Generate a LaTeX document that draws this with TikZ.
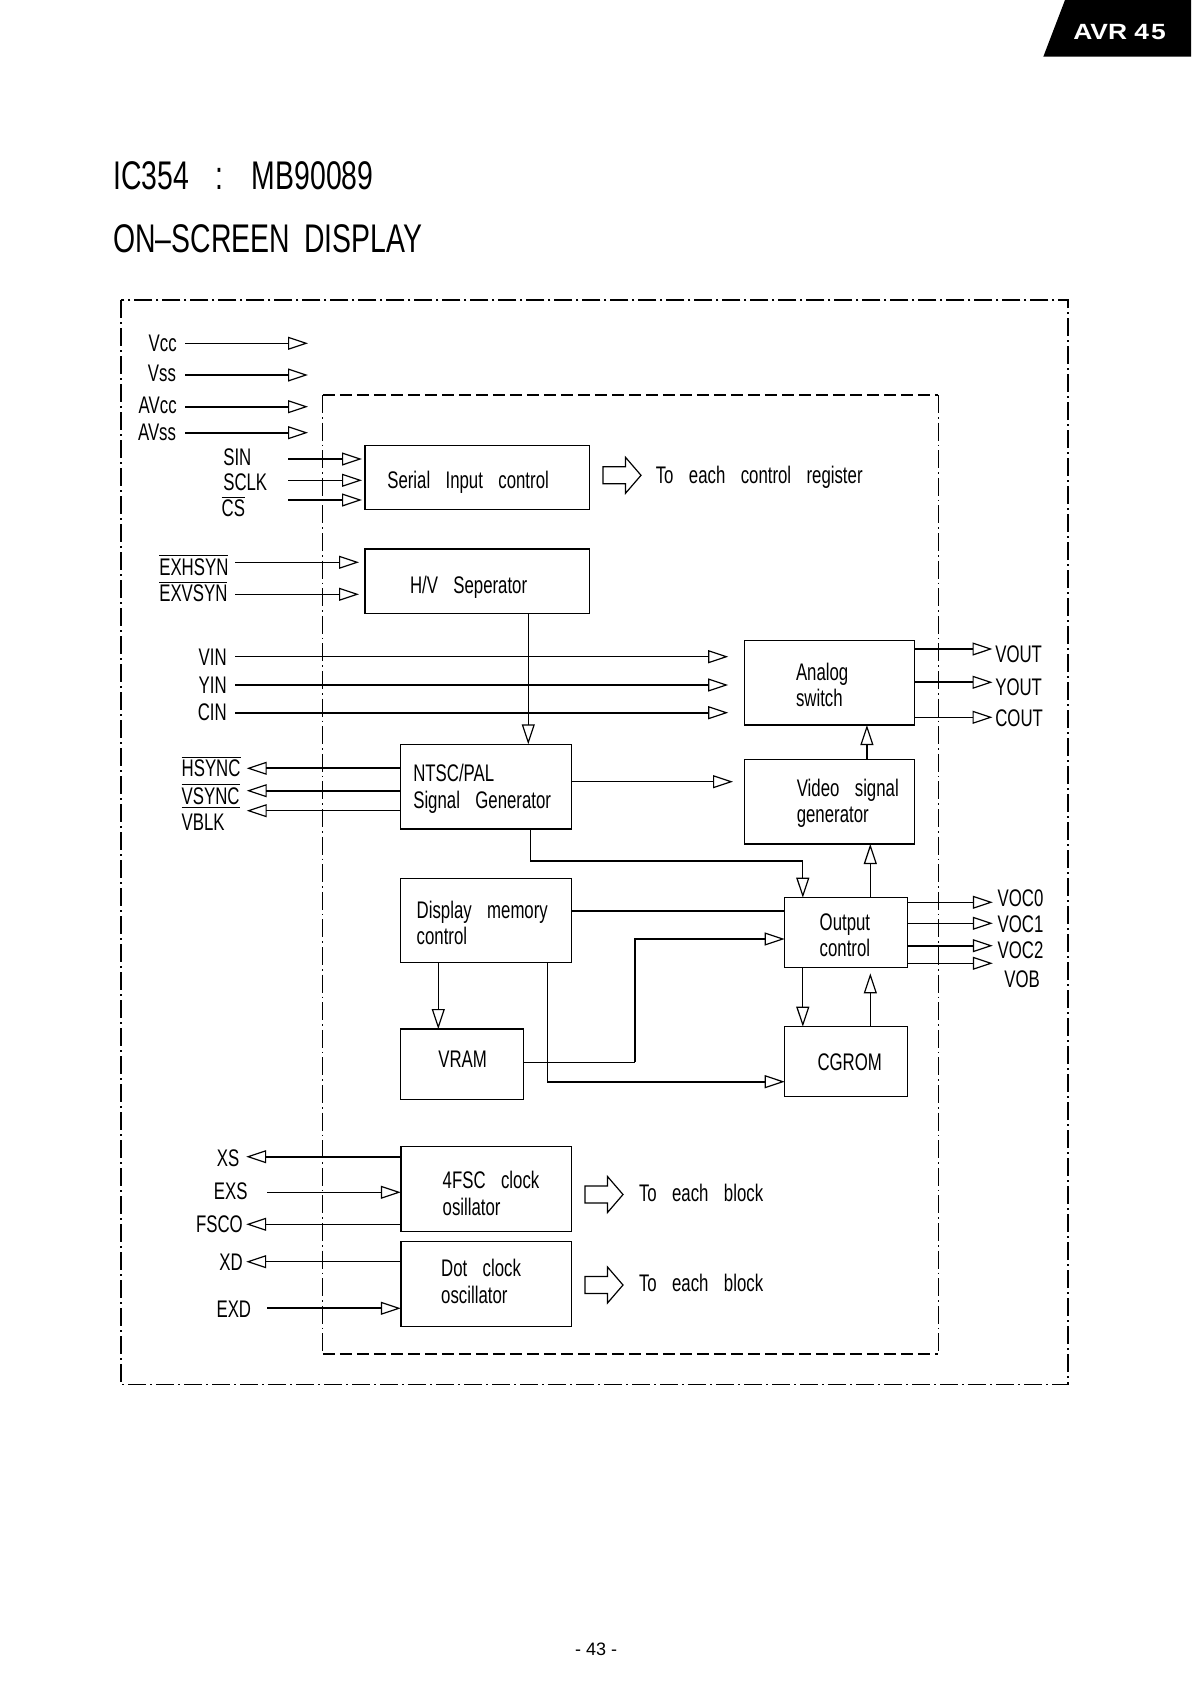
\documentclass[tikz,border=0pt]{standalone}
\usepackage{fontspec}
\setmainfont{Liberation Sans}[FakeStretch=0.7, WordSpace=3.3]
\newfontfamily\titlefont{Liberation Sans}[FakeStretch=0.71, WordSpace=1.8]
\newfontfamily\badgefont{Liberation Sans}[FakeStretch=1.2]
\newfontfamily\pagefont{Liberation Sans}
\usetikzlibrary{arrows.meta,fit}
\tikzset{
  every node/.style={inner sep=0pt, outer sep=0pt, font=\fontsize{12pt}{14pt}\selectfont},
  blk/.style={draw, line width=0.7pt, inner sep=0pt},
  wire/.style={line width=0.55pt},
  thk/.style={line width=1pt},
  sig/.style={-{Triangle[open, length=10pt, width=6.5pt, line width=0.6pt]}},
  lw/.style={anchor=base west},
  le/.style={anchor=base east},
  outerbox/.style={line width=0.8pt, dash pattern=on 9pt off 2pt on 1pt off 2pt},
  innerside/.style={line width=0.5pt, dash pattern=on 9pt off 2pt on 0.8pt off 2pt},
  innertop/.style={line width=0.9pt, dash pattern=on 6pt off 2.5pt},
  pics/fatarrow/.style={code={
    \draw[line width=0.6pt] (0,-8.5) -- (22.5,-8.5) -- (22.5,-18) -- (38,0)
      -- (22.5,18) -- (22.5,8.5) -- (0,8.5) -- cycle;}}
}
\begin{document}
\begin{tikzpicture}[x=0.5pt,y=-0.5pt]
\fill[white] (0,0) rectangle (1191,1685);
\useasboundingbox (0,0) rectangle (1191,1685);

% badge
\fill[black] (1065,0) -- (1191,0) -- (1191,56.7) -- (1043.3,56.7) -- cycle;
\node[lw, text=white, font=\badgefont\bfseries\fontsize{11pt}{13pt}\selectfont] (badge) at (1073.3,40) {AVR 4\kern1pt5};

% titles
\node[lw, font=\titlefont\fontsize{20pt}{24pt}\selectfont] (title1) at (113.3,190) {IC354\hspace{6pt} :\hspace{6pt} MB90089};
\node[lw, font=\titlefont\fontsize{20pt}{24pt}\selectfont] (title2) at (113.3,252.7) {ON–SCREEN DISPLAY};

% frames
\draw[outerbox] (120.7,300) rectangle (1068.2,1384.3);
\draw[innerside] (322.8,395) -- (322.8,1354);
\draw[innerside] (938.1,395) -- (938.1,1354);
\draw[innertop] (322.8,395) -- (938.1,395);
\draw[innertop] (322.8,1354) -- (938.1,1354);

% blocks
\node[blk, fit={(365,445.7) (589.3,509.3)}] (sic) {};
\node[blk, fit={(365,549) (589.3,613.3)}] (hv) {};
\node[blk, fit={(400.7,744.3) (571.7,829)}] (ntsc) {};
\node[blk, fit={(400.7,878.3) (571.7,962.3)}] (dmc) {};
\node[blk, fit={(400.7,1029) (523.3,1099.3)}] (vram) {};
\node[blk, fit={(744.7,640.7) (914.7,725)}] (asw) {};
\node[blk, fit={(744.7,759.3) (914.7,844)}] (vsg) {};
\node[blk, fit={(784.7,897.7) (907.2,967.7)}] (oc) {};
\node[blk, fit={(784.7,1026.7) (907.2,1096.7)}] (cg) {};
\node[blk, fit={(400.8,1146.7) (571.4,1231.5)}] (fsc) {};
\node[blk, fit={(400.8,1241.7) (571.4,1326.7)}] (dot) {};

% block texts
\node[lw] (sicT) at (387.3,488.3) {Serial Input control};
\node[lw] (hvT) at (410,593.3) {H/V Seperator};
\node[lw] (ntscA) at (413.3,781.7) {NTSC/PAL};
\node[lw] (ntscB) at (413.3,808.3) {Signal Generator};
\node[lw] (dmcA) at (416.7,918.3) {Display memory};
\node[lw] (dmcB) at (416.7,944) {control};
\node[lw] (vramT) at (438.3,1067.3) {VRAM};
\node[lw] (aswA) at (796,680) {Analog};
\node[lw] (aswB) at (796,706.7) {switch};
\node[lw] (vsgA) at (796.8,796.7) {Video signal};
\node[lw] (vsgB) at (796.8,822) {generator};
\node[lw] (ocA) at (819.7,930) {Output};
\node[lw] (ocB) at (819.7,956) {control};
\node[lw] (cgT) at (817.5,1070.7) {CGROM};
\node[lw] (fscA) at (442.7,1188) {4FSC clock};
\node[lw] (fscB) at (442.7,1215) {osillator};
\node[lw] (dotA) at (441.2,1276) {Dot clock};
\node[lw] (dotB) at (441.2,1303) {oscillator};

% "to each" arrows and texts
\pic (fa1) at (603,475.3) {fatarrow};
\node[lw] (regT) at (655.8,483.3) {To each control register};
\pic (fa2) at (585,1194.5) {fatarrow};
\node[lw] (blk1) at (639,1201.7) {To each block};
\pic (fa3) at (585,1285) {fatarrow};
\node[lw] (blk2) at (639,1291.7) {To each block};

% power pins
\node[le] (vcc) at (176.7,351.7) {Vcc};
\node[le] (vss) at (176,381) {Vss};
\node[le] (avcc) at (176.7,413.3) {AVcc};
\node[le] (avss) at (176,440) {AVss};
\coordinate (vccA) at (185,343.3);  \coordinate (vccB) at (308,343.3);
\coordinate (vssA) at (185,375);    \coordinate (vssB) at (308,375);
\coordinate (avccA) at (185,406.7); \coordinate (avccB) at (308,406.7);
\coordinate (avssA) at (185,432.7); \coordinate (avssB) at (308,432.7);
\draw[wire,sig] (vccA) -- (vccB);
\draw[wire,sig] (vssA) -- (vssB);
\draw[thk,sig] (avccA) -- (avccB);
\draw[thk,sig] (avssA) -- (avssB);

% serial inputs
\node[lw] (sin) at (223.3,465) {SIN};
\node[lw] (sclk) at (223.3,490.7) {SCLK};
\node[lw] (cs) at (221.7,516.7) {$\overline{\hbox{CS}}$};
\coordinate (sinA) at (288,459);
\coordinate (sclkA) at (288,480.3);
\coordinate (csA) at (288,500);
\draw[wire,sig,shorten >=1.5pt] (sinA) -- (sinA -| sic.west);
\draw[wire,sig,shorten >=1.5pt] (sclkA) -- (sclkA -| sic.west);
\draw[thk,sig,shorten >=1.5pt] (csA) -- (csA -| sic.west);

% sync inputs
\node[lw] (exh) at (159.3,575) {$\overline{\hbox{EXHSYN}}$};
\node[lw] (exv) at (159.3,601.7) {$\overline{\hbox{EXVSYN}}$};
\coordinate (exhA) at (235,562.3);
\coordinate (exvA) at (235,594.3);
\draw[wire,sig,shorten >=3pt] (exhA) -- (exhA -| hv.west);
\draw[wire,sig,shorten >=3pt] (exvA) -- (exvA -| hv.west);

% video inputs
\node[le] (vin) at (226.7,665) {VIN};
\node[le] (yin) at (226.7,693.3) {YIN};
\node[le] (cin) at (226.7,720) {CIN};
\coordinate (vinA) at (235,656.7);
\coordinate (yinA) at (235,685);
\coordinate (cinA) at (235,712.7);
\draw[wire,sig,shorten >=8.25pt] (vinA) -- (vinA -| asw.west);
\draw[wire,sig,shorten >=8.25pt] (yinA) -- (yinA -| asw.west);
\draw[thk,sig,shorten >=8.25pt] (cinA) -- (cinA -| asw.west);

% H/V -> NTSC
\coordinate (xa) at (528.3,0);
\draw[wire,sig] (hv.south -| xa) -- (ntsc.north -| xa);

% sync outputs
\node[lw] (hsync) at (181.7,776.7) {$\overline{\hbox{HSYNC}}$};
\node[lw] (vsync) at (181.7,804) {$\overline{\underline{\hbox{VSYNC}}}$};
\node[lw] (vblk) at (181.7,830) {VBLK};
\coordinate (hsA) at (246.7,768.3);
\coordinate (vsA) at (246.7,790.7);
\coordinate (vbA) at (246.7,810.7);
\draw[thk,sig] (hsA -| ntsc.west) -- (hsA);
\draw[thk,sig] (vsA -| ntsc.west) -- (vsA);
\draw[wire,sig] (vbA -| ntsc.west) -- (vbA);

% NTSC -> video signal generator
\coordinate (nvy) at (0,781.7);
\draw[wire,sig,shorten >=5.85pt] (ntsc.east |- nvy) -- (vsg.west |- nvy);

% NTSC -> output control
\coordinate (xb) at (530.7,0);
\coordinate (xc) at (802.8,0);
\coordinate (yb) at (0,861);
\draw[wire,sig] (ntsc.south -| xb) -- (xb |- yb) -- (xc |- yb) -- (oc.north -| xc);

% video signal generator -> analog switch, output control -> vsg
\coordinate (xd) at (866.9,0);
\coordinate (xe) at (870.3,0);
\draw[thk,sig] (vsg.north -| xd) -- (asw.south -| xd);
\draw[wire,sig] (oc.north -| xe) -- (vsg.south -| xe);

% analog switch outputs
\coordinate (voutE) at (992.5,649);
\coordinate (youtE) at (992.5,682.3);
\coordinate (coutE) at (992.5,717.3);
\draw[thk,sig] (asw.east |- voutE) -- (voutE);
\draw[thk,sig] (asw.east |- youtE) -- (youtE);
\draw[wire,sig] (asw.east |- coutE) -- (coutE);
\node[lw] (vout) at (995.3,662) {VOUT};
\node[lw] (yout) at (995.3,695) {YOUT};
\node[lw] (cout) at (995.3,726.7) {COUT};

% display memory control
\coordinate (yd) at (0,911);
\draw[thk] (dmc.east |- yd) -- (oc.west |- yd);
\coordinate (xf) at (438.3,0);
\draw[wire,sig] (dmc.south -| xf) -- (vram.north -| xf);
\coordinate (xg) at (547.3,0);
\coordinate (yg) at (0,1081.7);
\draw[wire] (dmc.south -| xg) -- (xg |- yg);
\draw[thk,sig] (xg |- yg) -- (cg.west |- yg);

% VRAM -> output control
\coordinate (xh) at (634.7,0);
\coordinate (yh1) at (0,1062.3);
\coordinate (yh2) at (0,939);
\draw[wire] (vram.east |- yh1) -- (xh |- yh1);
\draw[thk,sig] (xh |- yh1) -- (xh |- yh2) -- (oc.west |- yh2);

% output control <-> CGROM
\draw[wire,sig] (oc.south -| xc) -- (cg.north -| xc);
\draw[wire,sig,shorten >=2.8pt] (cg.north -| xe) -- (oc.south -| xe);

% output control outputs
\coordinate (voc0E) at (992.8,902.3);
\coordinate (voc1E) at (992.8,923.3);
\coordinate (voc2E) at (992.8,945.7);
\coordinate (vobE) at (992.8,963.3);
\draw[wire,sig] (oc.east |- voc0E) -- (voc0E);
\draw[wire,sig] (oc.east |- voc1E) -- (voc1E);
\draw[thk,sig] (oc.east |- voc2E) -- (voc2E);
\draw[wire,sig] (oc.east |- vobE) -- (vobE);
\node[lw] (voc0) at (997.7,906.7) {VOC0};
\node[lw] (voc1) at (997.7,932.7) {VOC1};
\node[lw] (voc2) at (997.7,958.3) {VOC2};
\node[lw] (vob) at (1004.4,987.7) {VOB};

% clock oscillators
\node[le] (xs) at (239.3,1166) {XS};
\node[le] (exs) at (247.6,1199) {EXS};
\node[le] (fsco) at (242.8,1232.7) {FSCO};
\node[le] (xd) at (242.8,1270) {XD};
\node[le] (exd) at (251.1,1317.3) {EXD};
\coordinate (xsE) at (246.2,1156.7);
\coordinate (exsA) at (267,1192.3);
\coordinate (fscoE) at (246.2,1224.3);
\coordinate (xdE) at (246.2,1261.7);
\coordinate (exdA) at (267,1308.3);
\draw[thk,sig] (fsc.west |- xsE) -- (xsE);
\draw[wire,sig] (exsA) -- (exsA -| fsc.west);
\draw[wire,sig] (fsc.west |- fscoE) -- (fscoE);
\draw[wire,sig] (dot.west |- xdE) -- (xdE);
\draw[thk,sig] (exdA) -- (exdA -| dot.west);

% page number
\node[lw, font=\pagefont\fontsize{9pt}{11pt}\selectfont] (page) at (575.2,1655) {- 43 -};
\end{tikzpicture}
\end{document}
